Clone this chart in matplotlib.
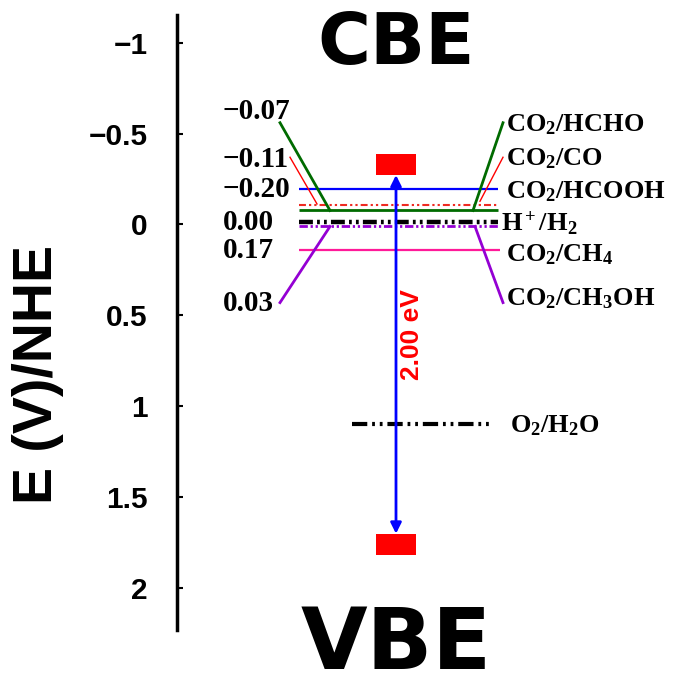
import matplotlib
matplotlib.use('Agg')
import matplotlib.pyplot as plt

plt.rcParams['mathtext.fontset'] = 'custom'
plt.rcParams['mathtext.rm'] = 'Liberation Serif:bold'
plt.rcParams['mathtext.it'] = 'Liberation Serif:bold'
plt.rcParams['mathtext.bf'] = 'Liberation Serif:bold'
plt.rcParams['lines.scale_dashes'] = False

# ---------------- data ----------------
cb = -0.33          # conduction band edge (V vs NHE)
vb = 1.76           # valence band edge
gap_label = '2.00 eV'

# redox levels as drawn
level_pos = [-0.196, -0.108, -0.077, -0.011, 0.011, 0.141]
level_txt = ['\u22120.20', '\u22120.11', '\u22120.07', '0.00', '0.03', '0.17']
level_names = ['CO$_2$/HCOOH', 'CO$_2$/CO', 'CO$_2$/HCHO', 'H$^+$/H$_2$',
               'CO$_2$/CH$_3$OH', 'CO$_2$/CH$_4$']
o2_pos = 1.097
o2_name = 'O$_2$/H$_2$O'

yticks = [-1, -0.5, 0, 0.5, 1, 1.5, 2]
ytick_labels = ['\u22121', '\u22120.5', '0', '0.5', '1', '1.5', '2']

# ---------------- styles ----------------
dd = lambda a, b, c: (0, (a, b, c, b, c, b))   # dash-dot-dot
colors = ['#0000ff', '#ee2a22', '#006b00', 'black', '#9400d3', '#ff1a99']
styles = ['-', dd(5, 2.2, 1.6), '-', dd(10, 3, 2), dd(6, 2, 1.6), '-']
widths = [1.6, 1.5, 2.0, 3.2, 2.0, 1.6]
serif = dict(fontfamily='Liberation Serif', fontweight='bold')

fig = plt.figure(figsize=(6.79, 6.81), dpi=100)
ax = fig.add_axes([177/679, 1-630/681, 1-177/679, 615/681])
ax.set_xlim(177, 679)
ax.set_ylim(2.232, -1.153)

for s in ['top', 'right', 'bottom']:
    ax.spines[s].set_visible(False)
ax.spines['left'].set_linewidth(2.5)
ax.set_xticks([])
ax.set_yticks(yticks)
ax.set_yticklabels(ytick_labels, fontfamily='Liberation Sans', fontweight='bold', fontsize=21.5)
ax.tick_params(axis='y', direction='in', length=4, width=1.5, pad=21)

fig.text(38/679, 1-374/681, 'E (V)/NHE', rotation=90, ha='center', va='center',
         fontfamily='Liberation Sans', fontweight='bold', fontsize=40)

# band edges
ax.bar(396, 0.116, bottom=cb-0.058, width=40, color='red', zorder=3)
ax.bar(396, 0.116, bottom=vb-0.058, width=40, color='red', zorder=3)
ax.annotate('', xy=(396, cb+0.058), xytext=(396, vb-0.058),
            arrowprops=dict(arrowstyle='<|-|>', color='#0000ff', lw=2,
                            mutation_scale=16, shrinkA=0, shrinkB=0), zorder=4)
ax.text(412, (cb+vb)/2 - 0.11, gap_label, rotation=90, ha='center', va='center',
        color='red', fontfamily='Liberation Sans', fontweight='bold', fontsize=19)

# redox levels
for i in range(len(level_pos)):
    x1 = 500 if i == 5 else 498
    ax.hlines(level_pos[i], 299, x1, colors=colors[i], linestyles=styles[i],
              linewidth=widths[i], zorder=2)
ax.hlines(o2_pos, 352, 493, colors='black', linestyles=dd(11, 3.5, 2), linewidth=3)

# leader lines
ax.plot([280, 330], [-0.56, level_pos[2]], color='#006b00', lw=2)
ax.plot([290, 317], [-0.37, level_pos[1]-0.005], color='red', lw=1)
ax.plot([280, 330], [0.43, level_pos[4]], color='#9400d3', lw=2)
ax.plot([503, 473], [-0.56, level_pos[2]], color='#006b00', lw=2)
ax.plot([503, 480], [-0.37, level_pos[1]-0.02], color='red', lw=1)
ax.plot([475, 503], [level_pos[4], 0.43], color='#9400d3', lw=2)

# left value labels
left_y = [-0.195, -0.36, -0.62, -0.01, 0.435, 0.141]
for t, y in zip(level_txt, left_y):
    ax.text(223, y, t, ha='left', va='center', fontsize=21, **serif)

# right name labels
right_y = [-0.18, -0.36, -0.55, -0.005, 0.41, 0.165]
right_x = [506, 506, 506, 501, 506, 506]
for t, x, y in zip(level_names, right_x, right_y):
    ax.text(x, y, t, ha='left', va='center', fontsize=19, **serif)
ax.text(510, o2_pos + 0.01, o2_name, ha='left', va='center', fontsize=19, **serif)

ax.text(396, -0.99, 'CBE', ha='center', va='center', fontfamily='DejaVu Sans',
        fontweight='bold', fontsize=52)
ax.text(396, 2.315, 'VBE', ha='center', va='center', fontfamily='DejaVu Sans',
        fontweight='bold', fontsize=62, clip_on=False)

fig.savefig('out.png', dpi=100)
